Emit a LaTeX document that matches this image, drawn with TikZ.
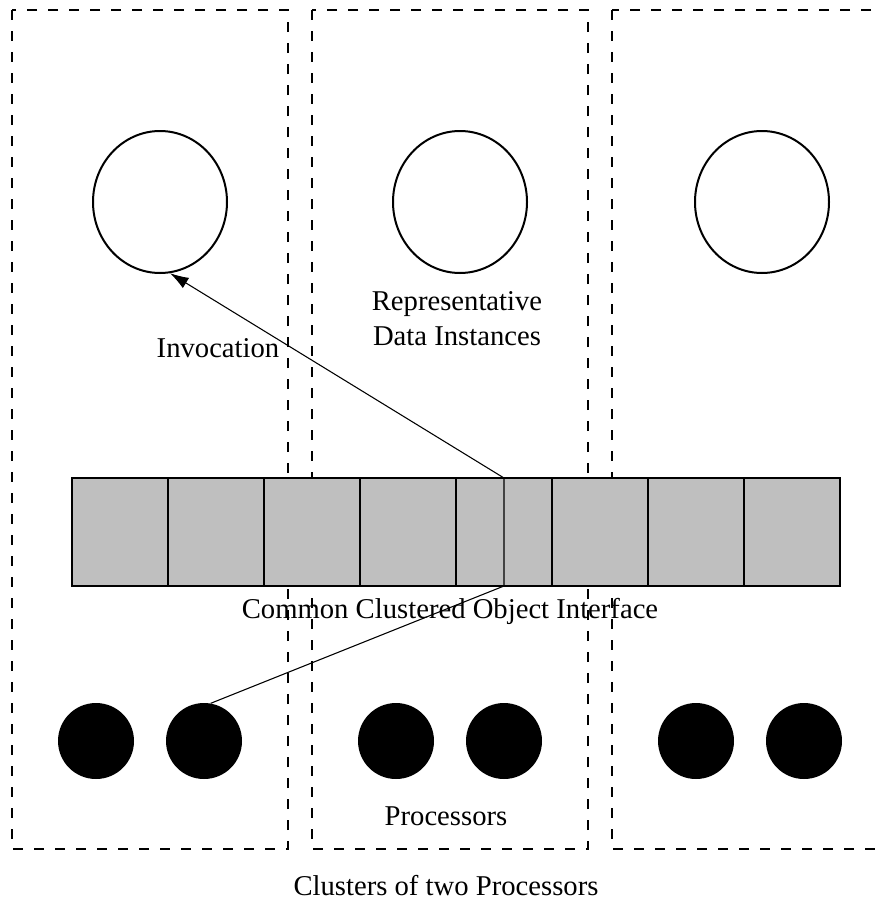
\documentclass[tikz,border=0pt]{standalone}
\usepackage{fontspec}
\setmainfont{Liberation Serif}
\usetikzlibrary{shapes.geometric,arrows.meta}
\begin{document}
\begin{tikzpicture}[x=0.75pt,y=-0.75pt,
  cluster/.style={line width=1pt,dash pattern=on 7.5pt off 8.25pt},
  instance/.style={ellipse,draw,line width=1.5pt,minimum width=100.5pt,minimum height=106.5pt,inner sep=0pt},
  proc/.style={circle,fill=black,minimum size=57pt,inner sep=0pt},
  cell/.style={rectangle,draw,fill={rgb,255:red,191;green,191;blue,191},line width=1.5pt,minimum width=72pt,minimum height=81pt,inner sep=0pt},
  label/.style={anchor=base,inner sep=0pt,font=\fontsize{21.5}{25}\selectfont},
  link/.style={line width=0.8pt}]
  \clip (0,0) rectangle (877,903);

  % clusters of two processors
  \draw[cluster] (12,10) rectangle (288,849);
  \draw[cluster] (312,10) rectangle (588,849);
  \draw[cluster] (612,10) rectangle (900,849);

  % representative data instances
  \node[instance] (r1) at (160,202) {};
  \node[instance] (r2) at (460,202) {};
  \node[instance] (r3) at (762,202) {};

  % common clustered object interface
  \foreach \i in {0,...,7}
    \node[cell] (c\i) at (120+96*\i,532) {};
  \coordinate (ibot) at (504,586);
  \coordinate (itop) at (504,478);

  % processors
  \node[proc] (p1) at (96,741) {};
  \node[proc] (p2) at (204,741) {};
  \node[proc] (p3) at (396,741) {};
  \node[proc] (p4) at (504,741) {};
  \node[proc] (p5) at (696,741) {};
  \node[proc] (p6) at (804,741) {};

  % invocation path
  \draw[link] (p2.80) -- (ibot) -- (itop);
  \draw[link,-{Latex[length=14pt,width=9pt]}] (itop) -- (r1.-82);

  % labels
  \node[label] (tinv) at (218,357) {Invocation};
  \node[label] (trep) at (457,310) {Representative};
  \node[label] (tdat) at (457,345) {Data Instances};
  \node[label] (tcoi) at (450,618) {Common Clustered Object Interface};
  \node[label] (tpro) at (446,825) {Processors};
  \node[label] (tclu) at (446,895) {Clusters of two Processors};
\end{tikzpicture}
\end{document}
